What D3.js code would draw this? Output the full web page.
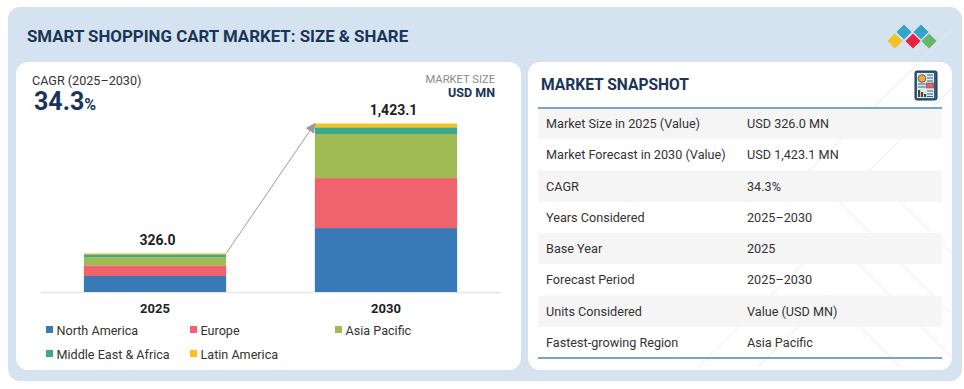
<!DOCTYPE html>
<html>
<head>
<meta charset="utf-8">
<script src="https://cdn.jsdelivr.net/npm/d3@7"></script>
<style>
    html, body { margin: 0; padding: 0; background: #fff; }
    svg { display: block; }
    text { font-family: Roboto, sans-serif; }
</style>
</head>
<body>
<div id="chart"></div>
<script>
const years = ['2025', '2030'];
const regions = ['North America', 'Europe', 'Asia Pacific', 'Middle East & Africa', 'Latin America'];
const regionColors = ['#387ab8', '#f0636c', '#a0ba54', '#3aa98f', '#fdbf1a'];
const northAmerica = [135, 540];
const europe = [90, 422];
const asiaPacific = [70, 372];
const middleEastAfrica = [23, 57];
const latinAmerica = [8, 32.1];
const totals = ['326.0', '1,423.1'];
const snapshotLabels = ['Market Size in 2025 (Value)', 'Market Forecast in 2030 (Value)', 'CAGR', 'Years Considered', 'Base Year', 'Forecast Period', 'Units Considered', 'Fastest-growing Region'];
const snapshotValues = ['USD 326.0 MN', 'USD 1,423.1 MN', '34.3%', '2025–2030', '2025', '2025–2030', 'Value (USD MN)', 'Asia Pacific'];
const logoColors = ['#f6bf26', '#35a2c9', '#e8213f', '#35a2c9', '#64b867'];

const navy = '#1a3558';
const svg = d3.select('#chart').append('svg').attr('width', 964).attr('height', 389);

// background + panels
svg.append('rect').attr('x', 8).attr('y', 7).attr('width', 954).attr('height', 374).attr('rx', 12).attr('fill', '#d5e3f0');
svg.append('rect').attr('x', 16).attr('y', 62).attr('width', 505).attr('height', 308).attr('rx', 12).attr('fill', '#fff');
svg.append('rect').attr('x', 528).attr('y', 62).attr('width', 424).attr('height', 308).attr('rx', 12).attr('fill', '#fff');

// faint watermark lines behind the table
const watermark = [
    [698, 367, 830, 236], [830, 236, 952, 358], [758, 367, 830, 295], [830, 295, 900, 367],
    [808, 170, 952, 314], [868, 170, 952, 254], [808, 172, 952, 30], [868, 172, 952, 88]
];
svg.append('g').selectAll('line').data(watermark).join('line')
    .attr('x1', d => d[0]).attr('y1', d => d[1]).attr('x2', d => d[2]).attr('y2', d => d[3])
    .attr('stroke', '#e8ecef').attr('stroke-width', 1);

svg.append('text').attr('x', 27).attr('y', 42).attr('font-size', 16.85).attr('font-weight', 700).attr('fill', navy)
    .text('SMART SHOPPING CART MARKET: SIZE & SHARE');

// logo
const logo = svg.append('g');
[[895, 41], [904, 32], [913, 41], [921, 32], [929, 41]].forEach((p, i) => {
    logo.append('path')
        .attr('d', d3.symbol(d3.symbolSquare, 115)())
        .attr('transform', `translate(${p[0]}, ${p[1]}) rotate(45)`)
        .attr('fill', logoColors[i]);
});

// left panel
svg.append('text').attr('x', 32).attr('y', 85).attr('font-size', 12.6).attr('fill', '#333').text('CAGR (2025–2030)');
const cagr = svg.append('text').attr('x', 34).attr('y', 110).attr('font-weight', 700).attr('fill', navy);
cagr.append('tspan').attr('font-size', 25).text('34.3');
cagr.append('tspan').attr('font-size', 16).text('%');
svg.append('text').attr('x', 495).attr('y', 83).attr('text-anchor', 'end').attr('font-size', 11.2).attr('fill', '#8a8a8a').text('MARKET SIZE');
svg.append('text').attr('x', 495).attr('y', 97.4).attr('text-anchor', 'end').attr('font-size', 12.5).attr('font-weight', 700).attr('fill', navy).text('USD MN');

// stacked bars
const rows = years.map((y, i) => ({
    year: y,
    'North America': northAmerica[i],
    'Europe': europe[i],
    'Asia Pacific': asiaPacific[i],
    'Middle East & Africa': middleEastAfrica[i],
    'Latin America': latinAmerica[i]
}));
const xScale = d3.scaleBand().domain(years).range([40, 501]).paddingInner(0.384).paddingOuter(0.19);
const yScale = d3.scaleLinear().domain([0, 1423.1]).range([292, 123.5]);
const colorScale = d3.scaleOrdinal().domain(regions).range(regionColors);
const stacked = d3.stack().keys(regions)(rows);

const xAxis = d3.axisBottom(xScale).tickSize(0).tickPadding(12);
const xAxisGroup = svg.append('g').attr('transform', 'translate(0, 292)').call(xAxis);
xAxisGroup.select('.domain').attr('stroke', '#e6e6e6').attr('stroke-width', 1.5);
xAxisGroup.selectAll('text').attr('font-size', 13).attr('font-weight', 700).attr('fill', '#222').style('font-family', 'Roboto');

svg.append('g').selectAll('g').data(stacked).join('g')
    .attr('fill', d => colorScale(d.key))
    .selectAll('rect').data(d => d).join('rect')
    .attr('x', d => xScale(d.data.year))
    .attr('y', d => yScale(d[1]))
    .attr('width', xScale.bandwidth())
    .attr('height', d => yScale(d[0]) - yScale(d[1]));

// total labels sit a little right of the bar centres in the original
const totalOffset = [2.5, 7.5];
svg.append('g').selectAll('text').data(years).join('text')
    .attr('x', (d, i) => xScale(d) + xScale.bandwidth() / 2 + totalOffset[i])
    .attr('y', (d, i) => yScale(d3.sum(regions, r => rows[i][r])) - 8.5)
    .attr('text-anchor', 'middle')
    .attr('font-size', 14).attr('font-weight', 700).attr('fill', '#222')
    .text((d, i) => totals[i]);

// growth arrow
const defs = svg.append('defs');
defs.append('marker').attr('id', 'arrowHead').attr('viewBox', '0 0 10 10').attr('refX', 9).attr('refY', 5)
    .attr('markerWidth', 10).attr('markerHeight', 10).attr('orient', 'auto').attr('markerUnits', 'userSpaceOnUse')
    .append('path').attr('d', 'M0,0L10,5L0,10Z').attr('fill', '#9a9a9a');
svg.append('line')
    .attr('x1', xScale('2025') + xScale.bandwidth()).attr('y1', yScale(326))
    .attr('x2', xScale('2030')).attr('y2', yScale(1423.1))
    .attr('stroke', '#9a9a9a').attr('stroke-width', 1).attr('marker-end', 'url(#arrowHead)');

// legend
const legendX = [46, 190, 335, 46, 190];
const legendY = [330, 330, 330, 354, 354];
const legend = svg.append('g').selectAll('g').data(regions).join('g')
    .attr('transform', (d, i) => `translate(${legendX[i]}, ${legendY[i]})`);
legend.append('rect').attr('y', -4).attr('width', 7).attr('height', 7).attr('fill', d => colorScale(d));
legend.append('text').attr('x', 10.5).attr('y', 4.5).attr('font-size', 12.6).attr('fill', '#333').text(d => d);

// snapshot table
svg.append('text').attr('x', 541).attr('y', 90).attr('font-size', 15.6).attr('font-weight', 700).attr('fill', navy).text('MARKET SNAPSHOT');
const rowScale = d3.scaleBand().domain(snapshotLabels).range([108, 358]);
svg.append('g').selectAll('rect').data(snapshotLabels.filter((d, i) => i % 2 === 0)).join('rect')
    .attr('x', 538).attr('y', d => rowScale(d)).attr('width', 404).attr('height', rowScale.bandwidth())
    .attr('fill', '#f5f5f5');
svg.append('g').selectAll('text').data(snapshotLabels).join('text')
    .attr('x', 546).attr('y', d => rowScale(d) + rowScale.bandwidth() / 2 + 4.5)
    .attr('font-size', 12.65).attr('fill', '#333').text(d => d);
svg.append('g').selectAll('text').data(snapshotValues).join('text')
    .attr('x', 747).attr('y', (d, i) => rowScale(snapshotLabels[i]) + rowScale.bandwidth() / 2 + 4.5)
    .attr('font-size', 12.65).attr('fill', '#333').text(d => d);
[108, 358].forEach(y => {
    svg.append('line').attr('x1', 538).attr('x2', 942).attr('y1', y).attr('y2', y)
        .attr('stroke', '#4b86b8').attr('stroke-width', 1.5);
});

// report icon
const icon = svg.append('g').attr('transform', 'translate(915, 71)');
icon.append('rect').attr('width', 22).attr('height', 29).attr('rx', 2).attr('fill', '#2a5f80').attr('stroke', '#20364a');
icon.append('rect').attr('x', 2).attr('y', 2).attr('width', 17).attr('height', 25).attr('fill', '#d9ecf2');
icon.append('circle').attr('cx', 7).attr('cy', 7.5).attr('r', 3.8).attr('fill', '#f0a63c').attr('stroke', '#5a4530').attr('stroke-width', 0.8);
[4, 7, 10].forEach(y => {
    icon.append('line').attr('x1', 12).attr('x2', 18).attr('y1', y).attr('y2', y).attr('stroke', '#47606f');
});
[13, 16].forEach(y => {
    icon.append('line').attr('x1', 3).attr('x2', 10).attr('y1', y).attr('y2', y).attr('stroke', '#47606f');
});
[20, 23, 25.5].forEach(y => {
    icon.append('line').attr('x1', 12).attr('x2', 18).attr('y1', y).attr('y2', y).attr('stroke', '#47606f');
});
icon.append('rect').attr('x', 11).attr('y', 12).attr('width', 8).attr('height', 5).attr('fill', '#e4626a').attr('stroke', '#5a4530').attr('stroke-width', 0.5);
[[3, 19, 7], [6, 21, 5], [9, 23, 3]].forEach(b => {
    icon.append('rect').attr('x', b[0]).attr('y', b[1]).attr('width', 2.2).attr('height', b[2]).attr('fill', '#5a4530');
});
</script>
</body>
</html>
